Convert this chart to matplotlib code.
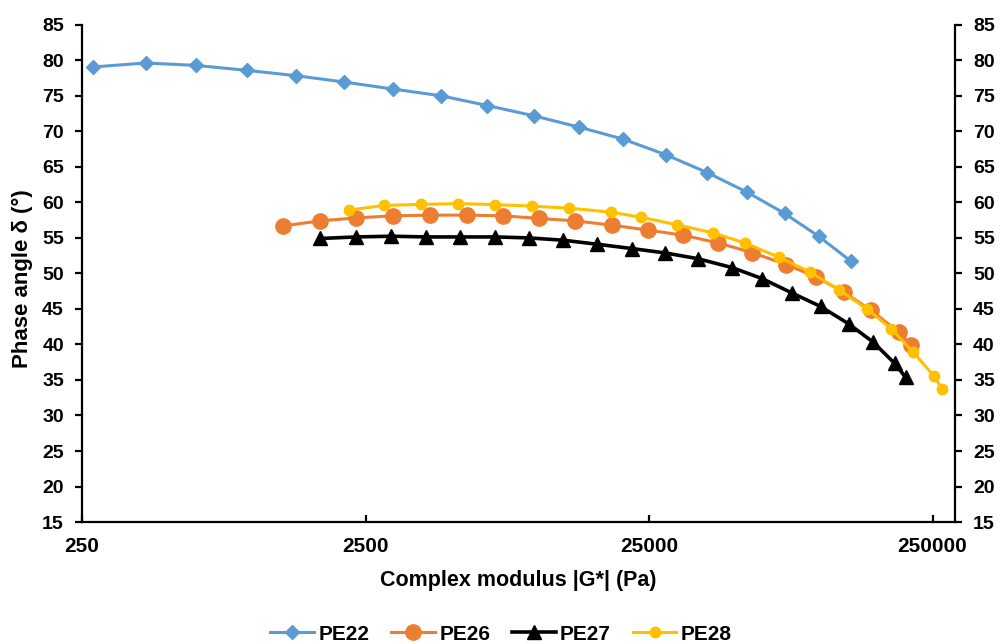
import matplotlib.pyplot as plt
from matplotlib.ticker import FixedLocator, NullLocator

plt.rcParams['font.family'] = ['Liberation Sans', 'DejaVu Sans']
plt.rcParams['font.weight'] = 'bold'

# complex modulus |G*| (Pa) and phase angle (deg) per sample
g_pe22 = [273, 420, 631, 956, 1423, 2103, 3131, 4626, 6722, 9851, 14200,
          20300, 28790, 40190, 55620, 75150, 99080, 128500]
d_pe22 = [79.07, 79.63, 79.29, 78.59, 77.84, 76.95, 75.96, 75.01, 73.64, 72.18,
          70.59, 68.90, 66.68, 64.18, 61.41, 58.45, 55.24, 51.75]

g_pe26 = [1277, 1730, 2318, 3123, 4230, 5700, 7657, 10260, 13750, 18570, 24880,
          33070, 43840, 57780, 76180, 96670, 121400, 152000, 189800, 209200]
d_pe26 = [56.69, 57.40, 57.82, 58.11, 58.21, 58.21, 58.11, 57.74, 57.40, 56.79,
          56.09, 55.38, 54.29, 52.94, 51.24, 49.55, 47.37, 44.80, 41.72, 39.99]

g_pe27 = [1730, 2318, 3081, 4085, 5398, 7172, 9457, 12440, 16440, 21790, 28570,
          37060, 49120, 62670, 80000, 100700, 126400, 154500, 183700, 200900]
d_pe27 = [54.92, 55.14, 55.24, 55.14, 55.14, 55.14, 55.00, 54.68, 54.11, 53.50,
          52.88, 52.09, 50.82, 49.27, 47.23, 45.35, 42.91, 40.31, 37.34, 35.37]

g_pe28 = [2178, 2911, 3932, 5311, 7172, 9671, 13090, 18370, 23500, 31500, 42100,
          54720, 71570, 92080, 116500, 146400, 178900, 212700, 252300, 270700]
d_pe28 = [58.91, 59.58, 59.72, 59.83, 59.69, 59.48, 59.19, 58.63, 57.90, 56.84,
          55.71, 54.25, 52.32, 50.23, 47.73, 45.03, 42.20, 39.00, 35.61, 33.73]

x_ticks = [250, 2500, 25000, 250000]
y_ticks = list(range(15, 90, 5))

fig = plt.figure(figsize=(10, 6.44), dpi=100)
ax = fig.add_axes([0.082, 0.1894, 0.873, 0.772])

ax.plot(g_pe22, d_pe22, color='#5B9BD5', lw=2.2, marker='D', ms=7.5, label='PE22')
ax.plot(g_pe26, d_pe26, color='#ED7D31', lw=2.2, marker='o', ms=11, label='PE26')
ax.plot(g_pe27, d_pe27, color='black', lw=2.6, marker='^', ms=10, label='PE27')
ax.plot(g_pe28, d_pe28, color='#FFC000', lw=2.2, marker='o', ms=7.5, label='PE28')

ax.set_xscale('log')
ax.set_xlim(250, 300000)
ax.set_ylim(15, 85)
ax.xaxis.set_major_locator(FixedLocator(x_ticks))
ax.xaxis.set_minor_locator(NullLocator())
ax.set_xticklabels([str(v) for v in x_ticks])
ax.set_yticks(y_ticks)

for s in ['left', 'right', 'bottom']:
    ax.spines[s].set_linewidth(1.6)
ax.spines['top'].set_visible(False)

ax.tick_params(axis='y', direction='out', length=5, width=1.6, labelsize=14,
               right=True, labelright=True, pad=8)
ax.tick_params(axis='x', direction='in', length=5, width=1.6, labelsize=15, pad=11)

ax.set_xlabel('Complex modulus |G*| (Pa)', fontsize=15.5, fontweight='bold')
ax.set_ylabel('Phase angle δ (°)', fontsize=16, fontweight='bold')
ax.xaxis.set_label_coords(0.5, -0.1167)
ax.xaxis.label.set_verticalalignment('center')
ax.yaxis.set_label_coords(-0.068, 0.49)
ax.yaxis.label.set_verticalalignment('center')

fig.legend(loc='center', ncol=4, frameon=False, fontsize=15,
           bbox_to_anchor=(0.501, 0.0155), handlelength=2.1, columnspacing=1.05,
           handletextpad=0.2)

fig.savefig('out.png', dpi=100)
